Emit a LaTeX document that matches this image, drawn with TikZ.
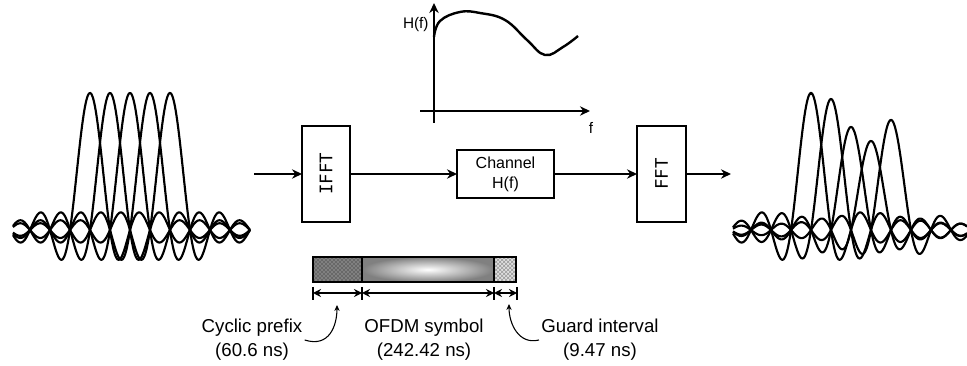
\documentclass[tikz,border=0pt]{standalone}
\usepackage{fontspec}
\setmainfont{Liberation Sans}
\setmonofont{DejaVu Sans Mono}
\usepackage{graphicx}
\usetikzlibrary{positioning,arrows.meta,patterns}

\begin{document}
\begin{tikzpicture}[x=0.75pt,y=-0.75pt,>={Stealth[length=7.5pt,width=7pt]},line width=1.6pt,
  blockbox/.style={draw,line width=2pt,inner sep=0pt,outer sep=0pt},
  wave/.style={line width=1.6pt,samples=400,smooth},
  barpart/.style={draw,line width=0.9pt,inner sep=0pt,outer sep=0pt,minimum height=18.75pt},
  dimline/.style={line width=1.4pt,{Stealth[length=6pt,width=6pt]}-{Stealth[length=6pt,width=6pt]}},
  callout/.style={line width=0.8pt,-{Stealth[length=4.5pt,width=4pt]}},
  note/.style={font=\fontsize{14}{18}\selectfont,align=center,inner sep=1pt},
  declare function={sincf(\t)=sin(180*(\t+0.00013))/(pi*(\t+0.00013));}]
  \useasboundingbox (0,0) rectangle (967,366);

  % spectra before and after the channel
  \foreach \c/\a in {90/137,110/137,130/137,150/137,170/137}
    \draw[wave] plot[domain=13:250] (\x,{230-\a*sincf((\x-\c)/20)});
  \foreach \c/\a in {811/137,831/131,851/103,871/89,891/110}
    \draw[wave] plot[domain=733:967] (\x,{230-\a*sincf((\x-\c)/20)});

  % blocks
  \node[blockbox,minimum width=36pt,minimum height=72pt,font=\ttfamily\fontsize{13}{13}\selectfont] (ifft) at (326,174) {\rotatebox{90}{IFFT}};
  \node[blockbox,minimum width=72.75pt,minimum height=36pt,align=center,font=\fontsize{12}{15}\selectfont,right=80.25pt of ifft] (chan) {Channel\\H(f)};
  \node[blockbox,minimum width=36.75pt,minimum height=72pt,font=\ttfamily\fontsize{13}{13}\selectfont,right=62.25pt of chan] (fft) {\rotatebox{90}{FFT}};
  \coordinate (in) at (254,174);
  \coordinate (out) at (731,174);

  \draw[->] (in) -- (ifft);
  \draw[->] (ifft) -- (chan);
  \draw[->] (chan) -- (fft);
  \draw[->] (fft) -- (out);

  % channel response
  \coordinate (ybot) at (434,123);
  \coordinate (ytop) at (434,3);
  \coordinate (xleft) at (420,111);
  \coordinate (xright) at (590,111);
  \draw[->] (ybot) -- (ytop);
  \draw[->] (xleft) -- (xright);
  \node[anchor=east,inner sep=1pt,font=\fontsize{11.5}{13}\selectfont] (hlabel) at (431,25) {H(f)};
  \node[font=\fontsize{11.5}{13}\selectfont] (flabel) at (591,128) {f};
  \draw[line width=1.8pt] plot[smooth,tension=0.7] coordinates {(434,37) (440,21) (460,12) (480,13) (505,20) (527,40) (545,55) (563,47) (578,36)};

  % symbol layout
  \node[barpart,minimum width=36.75pt,preaction={fill=black!50},pattern=crosshatch dots,pattern color=black!90] (cp) at (337.5,269.5) {};
  \node[barpart,minimum width=99pt,inner color=white,outer color=black!50,right=0pt of cp] (sym) {};
  \node[barpart,minimum width=16.5pt,preaction={fill=black!12},pattern=crosshatch,pattern color=black!40,right=0pt of sym] (gi) {};

  \foreach \x in {313,362,494,517}
    \draw[line width=1.1pt] (\x,287) -- (\x,300);
  \coordinate (t0) at (313,293);
  \coordinate (t1) at (362,293);
  \coordinate (t2) at (494,293);
  \coordinate (t3) at (517,293);
  \draw[dimline] (t0) -- (t1);
  \draw[dimline] (t1) -- (t2);
  \draw[dimline] (t2) -- (t3);

  \node[note] (cplabel) at (252,340) {Cyclic prefix\\(60.6 ns)};
  \node[note] (symlabel) at (424,340) {OFDM symbol\\(242.42 ns)};
  \node[note] (gilabel) at (600,340) {Guard interval\\(9.47 ns)};
  \coordinate (cptip) at (337,305);
  \coordinate (gitip) at (509,304);
  \draw[callout] (cplabel.east) .. controls +(25,8) and +(0,20) .. (cptip);
  \draw[callout] (gilabel.west) .. controls +(-20,5) and +(0,20) .. (gitip);
\end{tikzpicture}
\end{document}
